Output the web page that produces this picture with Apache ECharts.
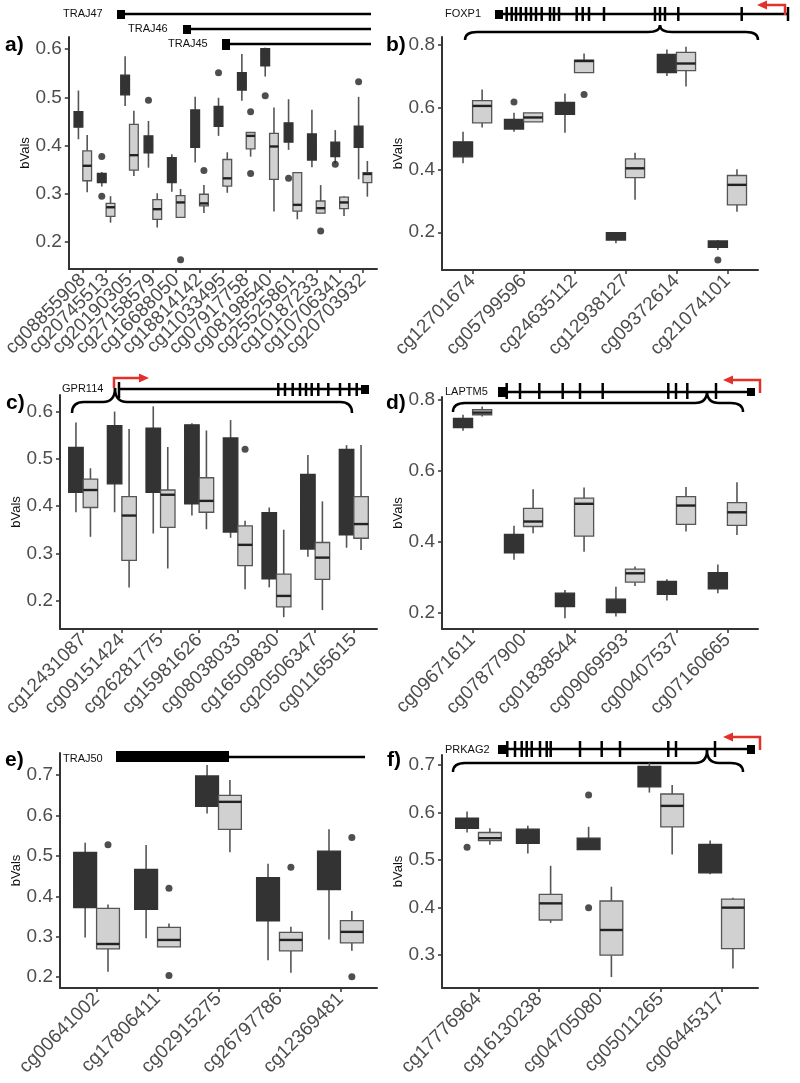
<!DOCTYPE html>
<html>
<head>
<meta charset="utf-8">
<script src="https://cdn.jsdelivr.net/npm/echarts@6/dist/echarts.min.js"></script>
<style>html,body{margin:0;padding:0;background:#fff}#main{width:800px;height:1083px}</style>
</head>
<body>
<div id="main"></div>
<script>
// box rows are [min, q1, median, q3, max]; outliers are [category number, value]
var catsA = ['cg08855908','cg20745513','cg20190305','cg27158579','cg16688050','cg18814142','cg11033495','cg07917758','cg08198540','cg25525861','cg10187233','cg10706341','cg20703932'];
var darkA = [[0.413,0.438,0.455,0.470,0.514],[0.315,0.323,0.333,0.342,0.345],[0.482,0.505,0.520,0.546,0.585],[0.354,0.385,0.400,0.420,0.451],[0.304,0.323,0.340,0.375,0.382],[0.365,0.396,0.430,0.474,0.501],[0.420,0.440,0.460,0.481,0.499],[0.493,0.515,0.530,0.551,0.590],[0.543,0.565,0.590,0.601,0.603],[0.391,0.407,0.425,0.447,0.496],[0.355,0.370,0.400,0.424,0.474],[0.363,0.377,0.390,0.407,0.432],[0.330,0.396,0.410,0.440,0.501]];
var lightA = [[0.303,0.327,0.358,0.389,0.422],[0.240,0.253,0.272,0.280,0.295],[0.337,0.349,0.380,0.444,0.472],[0.230,0.247,0.268,0.288,0.301],[0.251,0.251,0.282,0.296,0.310],[0.260,0.275,0.280,0.299,0.318],[0.302,0.316,0.332,0.371,0.386],[0.377,0.393,0.420,0.427,0.427],[0.263,0.330,0.398,0.425,0.479],[0.247,0.264,0.277,0.344,0.344],[0.260,0.260,0.270,0.285,0.318],[0.254,0.269,0.282,0.293,0.295],[0.294,0.323,0.341,0.344,0.368]];
var outDarkA = [[2,0.377],[2,0.295],[4,0.494],[7,0.551],[9,0.503],[10,0.332],[12,0.361],[13,0.532]];
var outLightA = [[5,0.163],[6,0.348],[8,0.470],[8,0.342],[11,0.223]];
var ticksA = [0.2,0.3,0.4,0.5,0.6];

var catsB = ['cg12701674','cg05799596','cg24635112','cg12938127','cg09372614','cg21074101'];
var darkB = [[0.421,0.442,0.460,0.490,0.522],[0.522,0.531,0.545,0.562,0.583],[0.519,0.578,0.600,0.616,0.645],[0.165,0.175,0.187,0.199,0.200],[0.701,0.712,0.740,0.770,0.786],[0.143,0.152,0.163,0.172,0.175]];
var lightB = [[0.536,0.551,0.605,0.622,0.658],[0.554,0.554,0.568,0.583,0.583],[0.712,0.712,0.749,0.752,0.773],[0.304,0.375,0.405,0.435,0.455],[0.667,0.718,0.741,0.777,0.795],[0.266,0.288,0.352,0.382,0.402]];
var outDarkB = [[2,0.618],[6,0.111]];
var outLightB = [[3,0.642]];
var ticksB = [0.2,0.4,0.6,0.8];

var catsC = ['cg12431087','cg09151424','cg26281775','cg15981626','cg08038033','cg16509830','cg20506347','cg01165615'];
var darkC = [[0.387,0.429,0.470,0.524,0.577],[0.387,0.447,0.500,0.570,0.600],[0.342,0.429,0.500,0.565,0.611],[0.380,0.405,0.500,0.572,0.575],[0.333,0.345,0.450,0.544,0.582],[0.228,0.246,0.300,0.386,0.397],[0.293,0.309,0.400,0.467,0.508],[0.312,0.339,0.450,0.520,0.529]];
var lightC = [[0.335,0.397,0.434,0.457,0.480],[0.228,0.285,0.380,0.420,0.563],[0.268,0.355,0.424,0.434,0.525],[0.351,0.387,0.411,0.460,0.560],[0.224,0.274,0.318,0.358,0.369],[0.165,0.187,0.210,0.256,0.350],[0.180,0.245,0.291,0.323,0.410],[0.307,0.332,0.362,0.420,0.529]];
var outDarkC = [];
var outLightC = [[5,0.520]];
var ticksC = [0.2,0.3,0.4,0.5,0.6];

var catsD = ['cg09671611','cg07877900','cg01838544','cg09069593','cg00407537','cg07160665'];
var darkD = [[0.713,0.722,0.735,0.748,0.758],[0.349,0.369,0.390,0.421,0.445],[0.184,0.217,0.235,0.255,0.264],[0.189,0.200,0.220,0.238,0.273],[0.234,0.252,0.270,0.288,0.294],[0.255,0.267,0.290,0.313,0.336]];
var lightD = [[0.753,0.758,0.764,0.772,0.781],[0.424,0.443,0.457,0.494,0.548],[0.372,0.416,0.507,0.523,0.553],[0.275,0.286,0.311,0.323,0.330],[0.429,0.449,0.502,0.527,0.554],[0.419,0.446,0.483,0.510,0.568]];
var outDarkD = [];
var outLightD = [];
var ticksD = [0.2,0.4,0.6,0.8];

var catsE = ['cg00641002','cg17806411','cg02915275','cg26797786','cg12369481'];
var darkE = [[0.298,0.372,0.440,0.509,0.533],[0.296,0.368,0.420,0.467,0.527],[0.605,0.623,0.660,0.698,0.725],[0.242,0.339,0.390,0.446,0.481],[0.293,0.417,0.460,0.512,0.566]];
var lightE = [[0.213,0.270,0.282,0.370,0.380],[0.275,0.275,0.292,0.323,0.333],[0.509,0.566,0.634,0.650,0.688],[0.211,0.265,0.292,0.311,0.325],[0.265,0.285,0.312,0.340,0.364]];
var outDarkE = [];
var outLightE = [[1,0.528],[2,0.420],[2,0.204],[4,0.472],[5,0.546],[5,0.201]];
var ticksE = [0.2,0.3,0.4,0.5,0.6,0.7];

var catsF = ['cg17776964','cg16130238','cg04705080','cg05011265','cg06445317'];
var darkF = [[0.558,0.567,0.578,0.588,0.602],[0.514,0.535,0.550,0.565,0.572],[0.522,0.522,0.535,0.546,0.570],[0.642,0.654,0.675,0.697,0.704],[0.470,0.473,0.500,0.533,0.541]];
var lightF = [[0.532,0.541,0.546,0.558,0.567],[0.368,0.374,0.409,0.428,0.488],[0.254,0.300,0.353,0.414,0.444],[0.512,0.570,0.614,0.639,0.658],[0.272,0.314,0.400,0.418,0.421]];
var outDarkF = [[1,0.527],[3,0.637],[3,0.400]];
var outLightF = [];
var ticksF = [0.3,0.4,0.5,0.6,0.7];

var BOX_W = 0.375, DODGE = 0.1875;
var FONT = '"Liberation Sans", Arial, sans-serif';
var RED = '#e2302b';

var panels = [
  {cats: catsA, dark: darkA, light: lightA, od: outDarkA, ol: outLightA, ticks: ticksA, min: 0.144, max: 0.625, grid: {left: 60, top: 37, width: 317, height: 232}},
  {cats: catsB, dark: darkB, light: lightB, od: outDarkB, ol: outLightB, ticks: ticksB, min: 0.079, max: 0.826, grid: {left: 442, top: 37, width: 316, height: 233}},
  {cats: catsC, dark: darkC, light: lightC, od: outDarkC, ol: outLightC, ticks: ticksC, min: 0.140, max: 0.635, grid: {left: 60, top: 395, width: 317, height: 234}},
  {cats: catsD, dark: darkD, light: lightD, od: outDarkD, ol: outLightD, ticks: ticksD, min: 0.154, max: 0.808, grid: {left: 442, top: 397, width: 316, height: 232}},
  {cats: catsE, dark: darkE, light: lightE, od: outDarkE, ol: outLightE, ticks: ticksE, min: 0.173, max: 0.755, grid: {left: 60, top: 753, width: 317, height: 235}},
  {cats: catsF, dark: darkF, light: lightF, od: outDarkF, ol: outLightF, ticks: ticksF, min: 0.231, max: 0.721, grid: {left: 442, top: 755, width: 316, height: 233}}
];

function boxRender(shift, fill, edge, mid) {
  return function (params, api) {
    var x = api.value(0) + shift;
    var lo = api.coord([x, api.value(1)]);
    var q1 = api.coord([x, api.value(2)]);
    var md = api.coord([x, api.value(3)]);
    var q3 = api.coord([x, api.value(4)]);
    var hi = api.coord([x, api.value(5)]);
    var half = api.size([BOX_W, 0])[0] / 2;
    var cx = md[0];
    return {type: 'group', children: [
      {type: 'line', shape: {x1: cx, y1: q3[1], x2: cx, y2: hi[1]}, style: {stroke: '#555', lineWidth: 1.6}},
      {type: 'line', shape: {x1: cx, y1: q1[1], x2: cx, y2: lo[1]}, style: {stroke: '#555', lineWidth: 1.6}},
      {type: 'rect', shape: {x: cx - half, y: q3[1], width: half * 2, height: Math.max(q1[1] - q3[1], 1)}, style: {fill: fill, stroke: edge, lineWidth: 1.3}},
      {type: 'line', shape: {x1: cx - half, y1: md[1], x2: cx + half, y2: md[1]}, style: {stroke: mid, lineWidth: 2.4}}
    ]};
  };
}

// labels are split over two stacked x axes (odd / even) so the rotated names never get dropped
function xAxisFor(p, i, vals, main) {
  return {
    type: 'value', gridIndex: i, position: 'bottom', min: 0.4, max: p.cats.length + 0.6,
    axisLine: {show: main, onZero: false, lineStyle: {color: '#333', width: 2}},
    axisTick: {show: main, customValues: p.cats.map(function (c, k) { return k + 1; }), length: 4, lineStyle: {color: '#333', width: 1.5}},
    axisLabel: {customValues: vals, rotate: 45, margin: 8, fontSize: 19, color: '#4d4d4d', fontFamily: FONT,
      showMinLabel: true, showMaxLabel: true, hideOverlap: false,
      formatter: function (v) { return p.cats[Math.round(v) - 1]; }},
    splitLine: {show: false}
  };
}

var grids = [], xAxes = [], yAxes = [], series = [];
panels.forEach(function (p, i) {
  var odd = [], even = [];
  p.cats.forEach(function (c, k) { (k % 2 === 0 ? odd : even).push(k + 1); });
  grids.push(p.grid);
  xAxes[i] = xAxisFor(p, i, odd, true);
  xAxes[i + panels.length] = xAxisFor(p, i, even, false);
  yAxes.push({
    type: 'value', gridIndex: i, min: p.min, max: p.max,
    name: 'bVals', nameLocation: 'middle', nameGap: 37,
    nameTextStyle: {fontSize: 13, color: '#111', fontFamily: FONT},
    axisLine: {show: true, onZero: false, lineStyle: {color: '#333', width: 2}},
    axisTick: {show: true, customValues: p.ticks, length: 4, lineStyle: {color: '#333', width: 1.5}},
    axisLabel: {customValues: p.ticks, margin: 7, fontSize: 19, color: '#4d4d4d', fontFamily: FONT,
      formatter: function (v) { return v.toFixed(1); }},
    splitLine: {show: false}
  });
  function rows(list) { return list.map(function (r, k) { return [k + 1].concat(r); }); }
  series.push({type: 'custom', xAxisIndex: i, yAxisIndex: i, renderItem: boxRender(-DODGE, '#333333', '#333333', '#333333'),
    encode: {x: 0, y: [1, 2, 3, 4, 5]}, data: rows(p.dark), z: 2});
  series.push({type: 'custom', xAxisIndex: i, yAxisIndex: i, renderItem: boxRender(DODGE, '#d1d1d1', '#555555', '#222222'),
    encode: {x: 0, y: [1, 2, 3, 4, 5]}, data: rows(p.light), z: 2});
  var outs = p.od.map(function (o) { return [o[0] - DODGE, o[1]]; })
    .concat(p.ol.map(function (o) { return [o[0] + DODGE, o[1]]; }));
  series.push({type: 'scatter', xAxisIndex: i, yAxisIndex: i, data: outs, symbolSize: 7,
    itemStyle: {color: '#222'}, z: 3});
});

// gene structure annotations
var g = [];
function line(x1, y1, x2, y2, w, c) { g.push({type: 'line', shape: {x1: x1, y1: y1, x2: x2, y2: y2}, style: {stroke: c || '#000', lineWidth: w}}); }
function curve(x1, y1, cx, cy, x2, y2) { g.push({type: 'bezierCurve', shape: {x1: x1, y1: y1, cpx1: cx, cpy1: cy, x2: x2, y2: y2}, style: {stroke: '#000', lineWidth: 2.5, fill: 'none'}}); }
function block(x, y, w, h) { g.push({type: 'rect', shape: {x: x, y: y, width: w, height: h}, style: {fill: '#000'}}); }
function label(t, x, y) { g.push({type: 'text', x: x, y: y, style: {text: t, font: '11px ' + FONT, fill: '#111', verticalAlign: 'middle'}}); }
function ticks(xs, y1, y2) { xs.forEach(function (x) { line(x, y1, x, y2, 2.5); }); }
function brace(x0, xc, x1, yt, ym, ye) {
  var r = 12;
  curve(x0, ye, x0, ym, x0 + r, ym);
  line(x0 + r, ym, xc - r, ym, 2.5);
  curve(xc - r, ym, xc, ym, xc, yt);
  curve(xc, yt, xc, ym, xc + r, ym);
  line(xc + r, ym, x1 - r, ym, 2.5);
  curve(x1 - r, ym, x1, ym, x1, ye);
}
function arrow(pts, dir) {
  var tip = pts[pts.length - 1];
  var p = pts.slice(0, -1).concat([[tip[0] - dir * 7, tip[1]]]);
  g.push({type: 'polyline', shape: {points: p}, style: {stroke: RED, lineWidth: 2.5, fill: 'none'}});
  g.push({type: 'polygon', shape: {points: [[tip[0], tip[1]], [tip[0] - dir * 10, tip[1] - 4.5], [tip[0] - dir * 10, tip[1] + 4.5]]}, style: {fill: RED}});
}
function panelTag(t, x, y) { g.push({type: 'text', x: x, y: y, style: {text: t, font: 'bold 21px ' + FONT, fill: '#000', verticalAlign: 'middle'}}); }

// a) TRAJ47/46/45
label('TRAJ47', 63, 14); block(117, 10, 8, 9); line(125, 14, 371, 14, 2.5);
label('TRAJ46', 128, 29); block(183, 25, 8, 9); line(191, 29, 371, 29, 2.5);
label('TRAJ45', 168, 44); block(222, 39, 8, 11); line(230, 44, 371, 44, 2.5);
// b) FOXP1
label('FOXP1', 445, 14); block(495, 10, 8, 9); line(497, 14, 788, 14, 2.5);
ticks([506.7, 511.7, 516, 520.7, 526, 531, 536, 541.7, 550, 554, 559, 576.7, 582.7, 589, 604, 655, 660, 665, 678.3, 741.7, 788], 7, 21);
arrow([[785, 15], [785, 5], [757, 5]], -1);
brace(465, 660, 758, 25, 32, 40);
// c) GPR114
label('GPR114', 62, 389); line(119, 382, 119, 398, 2.5); line(119, 389, 365, 389, 2.5); block(361, 385, 8, 9);
ticks([278.3, 285, 292.7, 300, 306, 311.7, 318.3, 328.3, 340, 349.3, 356.7], 383, 396);
arrow([[114, 388], [114, 378], [149, 378]], 1);
brace(72, 115, 352, 388, 402, 413);
// d) LAPTM5
label('LAPTM5', 445, 392); block(498, 387, 10, 10); line(508, 392, 752, 392, 2.5); block(747, 388, 8, 8);
ticks([506.7, 520, 539.3, 562.7, 580, 602.7, 668.3, 676, 687.3, 716], 383, 399);
arrow([[760, 393], [760, 380], [723, 380]], -1);
brace(453, 707, 743, 391, 403, 412);
// e) TRAJ50
label('TRAJ50', 63, 759); block(116, 751, 113, 11); line(229, 757, 365, 757, 2.5);
// f) PRKAG2
label('PRKAG2', 445, 750); block(498, 745, 9, 9); line(507, 749, 752, 749, 2.5); block(747, 745, 8, 9);
ticks([507.3, 515, 521.7, 526.7, 531.7, 540, 546.7, 550.7, 580, 601.7, 620, 668.3, 676, 715], 741, 757);
arrow([[760, 750], [760, 737], [723, 737]], -1);
brace(453, 707, 743, 750, 763, 772);

panelTag('a)', 5, 45); panelTag('b)', 386, 45);
panelTag('c)', 6, 403); panelTag('d)', 386, 403);
panelTag('e)', 5, 760); panelTag('f)', 387, 760);

var myChart = echarts.init(document.getElementById('main'));
myChart.setOption({
  animation: false,
  backgroundColor: '#fff',
  grid: grids,
  xAxis: xAxes,
  yAxis: yAxes,
  series: series,
  graphic: g
});
</script>
</body>
</html>
